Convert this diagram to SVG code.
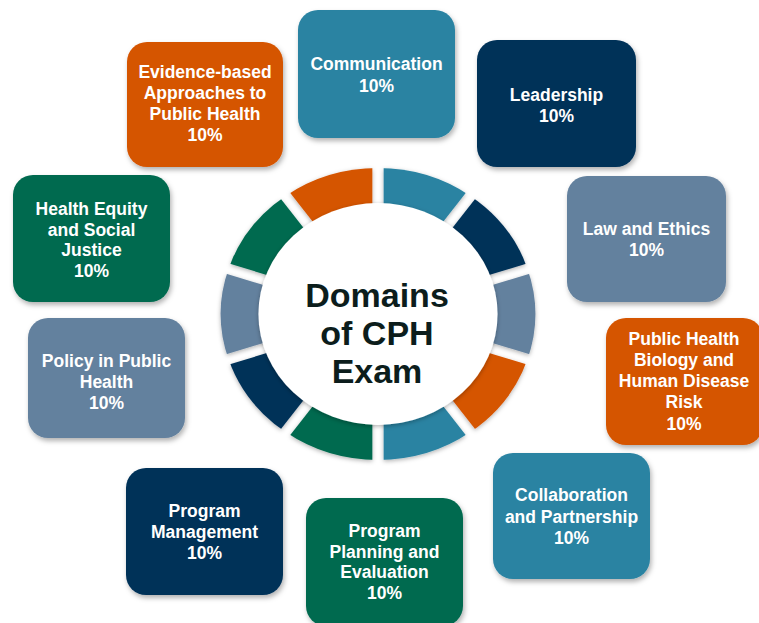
<svg xmlns="http://www.w3.org/2000/svg" width="759" height="623" viewBox="0 0 759 623">
  <defs>
    <filter id="sh" x="-20%" y="-20%" width="140%" height="150%">
      <feDropShadow dx="1.5" dy="3" stdDeviation="2.5" flood-color="#000" flood-opacity="0.3"/>
    </filter>
    <filter id="sh2" x="-20%" y="-20%" width="140%" height="140%">
      <feDropShadow dx="0" dy="1.5" stdDeviation="2" flood-color="#000" flood-opacity="0.3"/>
    </filter>
    <mask id="gaps" maskUnits="userSpaceOnUse" x="-200" y="-200" width="400" height="400">
      <rect x="-200" y="-200" width="400" height="400" fill="#fff"/>
      <g stroke="#000" stroke-width="10.5">
        <line x1="0" y1="0" x2="0" y2="-160"/>
        <line x1="0" y1="0" x2="94.05" y2="-129.44"/>
        <line x1="0" y1="0" x2="152.17" y2="-49.44"/>
        <line x1="0" y1="0" x2="152.17" y2="49.44"/>
        <line x1="0" y1="0" x2="94.05" y2="129.44"/>
        <line x1="0" y1="0" x2="0" y2="160"/>
        <line x1="0" y1="0" x2="-94.05" y2="129.44"/>
        <line x1="0" y1="0" x2="-152.17" y2="49.44"/>
        <line x1="0" y1="0" x2="-152.17" y2="-49.44"/>
        <line x1="0" y1="0" x2="-94.05" y2="-129.44"/>
      </g>
    </mask>
  </defs>
  <style>
    .box { filter: url(#sh); }
    .lbl { font-family: "Liberation Sans", Arial, sans-serif; font-weight: bold; font-size: 17.5px; fill: #ffffff; text-anchor: middle; }
    .title { font-family: "Liberation Sans", Arial, sans-serif; font-weight: bold; font-size: 34px; fill: #0c1d1c; text-anchor: middle; }
    .orange { fill: #d55401; }
    .teal { fill: #2a83a2; }
    .navy { fill: #023259; }
    .slate { fill: #64819e; }
    .green { fill: #066a4f; }
  </style>

  <rect width="759" height="623" fill="#ffffff"/>

  <!-- ring -->
  <g id="ring" transform="translate(378,314) scale(1.077,1)">
    <g filter="url(#sh2)">
      <g mask="url(#gaps)">
        <path class="teal" d="M0,0 L0,-146 A146,146 0 0 1 85.82,-118.11 Z"/>
        <path class="navy" d="M0,0 L85.82,-118.11 A146,146 0 0 1 138.86,-45.12 Z"/>
        <path class="slate" d="M0,0 L138.86,-45.12 A146,146 0 0 1 138.86,45.12 Z"/>
        <path class="orange" d="M0,0 L138.86,45.12 A146,146 0 0 1 85.82,118.11 Z"/>
        <path class="teal" d="M0,0 L85.82,118.11 A146,146 0 0 1 0,146 Z"/>
        <path class="green" d="M0,0 L0,146 A146,146 0 0 1 -85.82,118.11 Z"/>
        <path class="navy" d="M0,0 L-85.82,118.11 A146,146 0 0 1 -138.86,45.12 Z"/>
        <path class="slate" d="M0,0 L-138.86,45.12 A146,146 0 0 1 -138.86,-45.12 Z"/>
        <path class="green" d="M0,0 L-138.86,-45.12 A146,146 0 0 1 -85.82,-118.11 Z"/>
        <path class="orange" d="M0,0 L-85.82,-118.11 A146,146 0 0 1 0,-146 Z"/>
      </g>
    </g>
    <circle cx="0" cy="0" r="111" fill="#ffffff" filter="url(#sh2)"/>
  </g>

  <g id="center-title">
    <text class="title" x="377" y="307">Domains</text>
    <text class="title" x="377" y="345">of CPH</text>
    <text class="title" x="377" y="383">Exam</text>
  </g>

  <g id="connectors"></g>

  <g id="communication">
    <rect class="box teal" x="298" y="10" width="157" height="128" rx="20"/>
    <text class="lbl" x="376.5" y="70">Communication</text>
    <text class="lbl" x="376.5" y="92">10%</text>
  </g>

  <g id="leadership">
    <rect class="box navy" x="477" y="40" width="159" height="127" rx="20"/>
    <text class="lbl" x="556.5" y="101">Leadership</text>
    <text class="lbl" x="556.5" y="122">10%</text>
  </g>

  <g id="law-ethics">
    <rect class="box slate" x="567" y="176" width="159" height="126" rx="20"/>
    <text class="lbl" x="646.5" y="235">Law and Ethics</text>
    <text class="lbl" x="646.5" y="256">10%</text>
  </g>

  <g id="biology">
    <rect class="box orange" x="606" y="318" width="157" height="127" rx="20"/>
    <text class="lbl" x="684" y="345">Public Health</text>
    <text class="lbl" x="684" y="366">Biology and</text>
    <text class="lbl" x="684" y="387">Human Disease</text>
    <text class="lbl" x="684" y="408">Risk</text>
    <text class="lbl" x="684" y="430">10%</text>
  </g>

  <g id="collaboration">
    <rect class="box teal" x="493" y="453" width="157" height="126" rx="20"/>
    <text class="lbl" x="571.5" y="501">Collaboration</text>
    <text class="lbl" x="571.5" y="523">and Partnership</text>
    <text class="lbl" x="571.5" y="544">10%</text>
  </g>

  <g id="planning">
    <rect class="box green" x="306" y="498" width="157" height="128" rx="20"/>
    <text class="lbl" x="384.5" y="537">Program</text>
    <text class="lbl" x="384.5" y="558">Planning and</text>
    <text class="lbl" x="384.5" y="578">Evaluation</text>
    <text class="lbl" x="384.5" y="599">10%</text>
  </g>

  <g id="management">
    <rect class="box navy" x="126" y="468" width="157" height="127" rx="20"/>
    <text class="lbl" x="204.5" y="517">Program</text>
    <text class="lbl" x="204.5" y="538">Management</text>
    <text class="lbl" x="204.5" y="559">10%</text>
  </g>

  <g id="policy">
    <rect class="box slate" x="28" y="318" width="157" height="120" rx="20"/>
    <text class="lbl" x="106.5" y="367">Policy in Public</text>
    <text class="lbl" x="106.5" y="388">Health</text>
    <text class="lbl" x="106.5" y="409">10%</text>
  </g>

  <g id="health-equity">
    <rect class="box green" x="13" y="175" width="157" height="127" rx="20"/>
    <text class="lbl" x="91.5" y="215">Health Equity</text>
    <text class="lbl" x="91.5" y="236">and Social</text>
    <text class="lbl" x="91.5" y="256">Justice</text>
    <text class="lbl" x="91.5" y="277">10%</text>
  </g>

  <g id="evidence">
    <rect class="box orange" x="127" y="42" width="156" height="125" rx="20"/>
    <text class="lbl" x="205" y="78">Evidence-based</text>
    <text class="lbl" x="205" y="99">Approaches to</text>
    <text class="lbl" x="205" y="120">Public Health</text>
    <text class="lbl" x="205" y="141">10%</text>
  </g>
</svg>
